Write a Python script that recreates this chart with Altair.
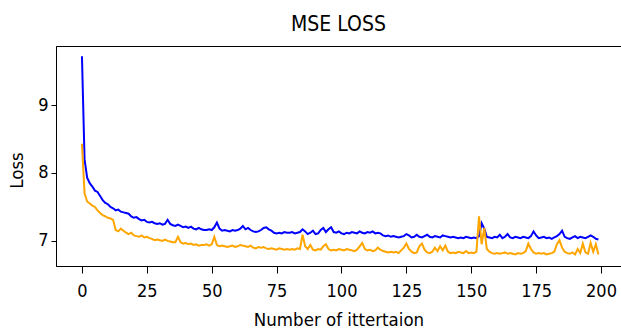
import altair as alt
import pandas as pd

# MSE loss per iteration
blue_loss = [
    9.72, 8.20, 7.93, 7.85, 7.80, 7.74, 7.72, 7.66, 7.60, 7.56,
    7.54, 7.50, 7.48, 7.45, 7.46, 7.43, 7.42, 7.41, 7.40, 7.36,
    7.34, 7.35, 7.32, 7.30, 7.31, 7.28, 7.27, 7.28, 7.26, 7.25,
    7.26, 7.24, 7.25, 7.31, 7.25, 7.23, 7.22, 7.24, 7.22, 7.20,
    7.21, 7.19, 7.21, 7.18, 7.17, 7.19, 7.17, 7.16, 7.16, 7.17,
    7.16, 7.20, 7.27, 7.18, 7.15, 7.16, 7.15, 7.14, 7.16, 7.15,
    7.16, 7.18, 7.22, 7.17, 7.19, 7.16, 7.14, 7.13, 7.14, 7.16,
    7.19, 7.20, 7.17, 7.15, 7.12, 7.11, 7.12, 7.11, 7.13, 7.12,
    7.12, 7.13, 7.11, 7.12, 7.13, 7.17, 7.14, 7.10, 7.12, 7.15,
    7.10, 7.11, 7.16, 7.19, 7.13, 7.17, 7.20, 7.13, 7.12, 7.14,
    7.11, 7.10, 7.12, 7.11, 7.13, 7.12, 7.11, 7.14, 7.12, 7.11,
    7.13, 7.12, 7.14, 7.11, 7.12, 7.11, 7.08, 7.07, 7.08, 7.06,
    7.07, 7.06, 7.05, 7.06, 7.07, 7.10, 7.08, 7.05, 7.06, 7.09,
    7.06, 7.05, 7.07, 7.09, 7.06, 7.05, 7.07, 7.06, 7.05, 7.08,
    7.07, 7.06, 7.05, 7.06, 7.05, 7.04, 7.05, 7.04, 7.06, 7.05,
    7.04, 7.05, 7.04, 7.07, 7.26, 7.18, 7.06, 7.05, 7.04, 7.06,
    7.05, 7.09, 7.04, 7.06, 7.10, 7.05, 7.04, 7.06, 7.05, 7.04,
    7.06, 7.05, 7.04, 7.07, 7.14, 7.08, 7.04, 7.05, 7.06, 7.04,
    7.05, 7.03, 7.05, 7.07, 7.10, 7.15, 7.06, 7.04, 7.03, 7.05,
    7.07, 7.04, 7.06, 7.05, 7.04, 7.06, 7.08, 7.06, 7.03, 7.02,
]

orange_loss = [
    8.43, 7.70, 7.58, 7.55, 7.52, 7.50, 7.45, 7.41, 7.38, 7.36,
    7.34, 7.33, 7.31, 7.16, 7.14, 7.18, 7.15, 7.12, 7.10, 7.12,
    7.08, 7.07, 7.06, 7.08, 7.05, 7.06, 7.04, 7.03, 7.01, 7.02,
    7.01, 7.00, 7.02, 7.00, 6.99, 6.98, 6.98, 7.06, 6.98, 6.96,
    6.97, 6.95, 6.96, 6.94, 6.95, 6.93, 6.94, 6.94, 6.95, 6.93,
    6.95, 7.06, 6.94, 6.92, 6.93, 6.92, 6.91, 6.92, 6.93, 6.91,
    6.92, 6.94, 6.93, 6.92, 6.91, 6.93, 6.90, 6.89, 6.91, 6.90,
    6.91, 6.89, 6.88, 6.89, 6.88, 6.87, 6.89, 6.88, 6.87, 6.88,
    6.87, 6.88, 6.87, 6.89, 6.88, 7.09, 6.92, 6.88, 6.94, 6.87,
    6.86, 6.88, 6.87, 6.92, 6.95, 6.88, 6.86, 6.87, 6.86, 6.88,
    6.87, 6.86, 6.88, 6.87, 6.86, 6.85, 6.87, 6.92, 6.97, 6.88,
    6.86, 6.87, 6.85, 6.86, 6.90, 6.87, 6.85, 6.84, 6.83, 6.84,
    6.83, 6.84, 6.82, 6.86, 6.90, 6.96, 6.88, 6.84, 6.82, 6.83,
    6.92, 6.96, 6.87, 6.83, 6.82, 6.84, 6.90, 6.85, 6.92, 6.86,
    6.93, 6.84, 6.82, 6.83, 6.82, 6.84, 6.83, 6.82, 6.85, 6.82,
    6.83, 6.82, 6.84, 7.36, 6.95, 7.19, 6.88, 6.84, 6.82, 6.81,
    6.82, 6.81, 6.82, 6.83, 6.81, 6.82, 6.81, 6.80, 6.82, 6.81,
    6.82, 6.85, 6.96, 6.88, 6.83, 6.81, 6.82, 6.81, 6.82, 6.80,
    6.81, 6.82, 6.84, 6.95, 7.01, 6.90, 6.84, 6.82, 6.81, 6.83,
    6.80, 6.88, 6.82, 6.96, 6.83, 6.81, 6.97, 6.84, 6.95, 6.80,
]

x_ticks = [0, 25, 50, 75, 100, 125, 150, 175, 200]
y_ticks = [7, 8, 9]

FONT = "DejaVu Sans Condensed, DejaVu Sans"

df_blue = pd.DataFrame({"iter": list(range(len(blue_loss))), "loss": blue_loss})
df_orange = pd.DataFrame({"iter": list(range(len(orange_loss))), "loss": orange_loss})

x_enc = alt.X(
    "iter:Q",
    scale=alt.Scale(domain=[-10, 207.7], nice=False, zero=False),
    axis=alt.Axis(title="Number of ittertaion", values=x_ticks, grid=False,
                  tickSize=7, labelPadding=9, titlePadding=10,
                  labelFontSize=18, titleFontSize=18.5),
)
y_enc = alt.Y(
    "loss:Q",
    scale=alt.Scale(domain=[6.63, 9.87], nice=False, zero=False),
    axis=alt.Axis(title="Loss", values=y_ticks, grid=False,
                  tickSize=5, labelPadding=3, titlePadding=11, titleY=124,
                  labelFontSize=18, titleFontSize=18.5),
)

blue = alt.Chart(df_blue).mark_line(color="#0000ff", strokeWidth=2).encode(x=x_enc, y=y_enc)
orange = alt.Chart(df_orange).mark_line(color="#ffa500", strokeWidth=2).encode(x=x_enc, y=y_enc)

chart = (
    alt.layer(blue, orange)
    .properties(
        width=565,
        height=220,
        background="white",
        title=alt.TitleParams("MSE LOSS", fontSize=21, font=FONT, fontWeight="normal",
                              color="black", offset=11),
        autosize=alt.AutoSizeParams(type="none"),
        padding={"left": 56, "top": 46, "right": 0, "bottom": 65},
    )
    .configure_view(stroke="black", strokeWidth=1)
    .configure_axis(
        labelFont=FONT, titleFont=FONT,
        titleFontWeight="normal", labelColor="black", titleColor="black",
        domainColor="black", tickColor="black",
    )
)

chart.save("out.html", embed_options={"renderer": "svg", "actions": False})
